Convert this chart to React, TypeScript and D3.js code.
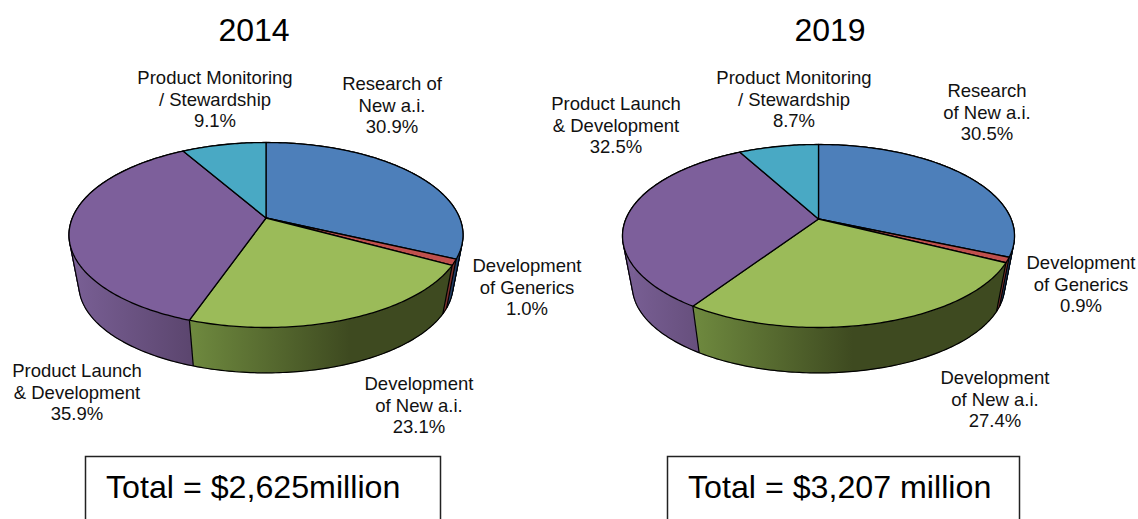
import React from "react";
import * as d3 from "d3";

const categories = [
  "Research of New a.i.",
  "Development of Generics",
  "Development of New a.i.",
  "Product Launch & Development",
  "Product Monitoring / Stewardship",
];
const values2014 = [30.9, 1.0, 23.1, 35.9, 9.1];
const values2019 = [30.5, 0.9, 27.4, 32.5, 8.7];
const totals = ["Total = $2,625million", "Total = $3,207 million"];
const years = ["2014", "2019"];

const topColors = ["#4d7fba", "#c0504d", "#9bbb59", "#7d5f9b", "#49a9c4"];
const wallLeft = ["#2a4f80", "#7a2f2d", "#6f8a3f", "#7a6096", "#2f7d92"];
const wallRight = ["#1f3d66", "#6a2927", "#3e4a20", "#5c466f", "#2f7d92"];

const labels2014 = [
  { x: 392, y: 90, lines: ["Research of", "New a.i.", "30.9%"] },
  { x: 527, y: 272, lines: ["Development", "of Generics", "1.0%"] },
  { x: 419, y: 390, lines: ["Development", "of New a.i.", "23.1%"] },
  { x: 77, y: 377, lines: ["Product Launch", "& Development", "35.9%"] },
  { x: 215, y: 84, lines: ["Product Monitoring", "/ Stewardship", "9.1%"] },
];
const labels2019 = [
  { x: 987, y: 97, lines: ["Research", "of New a.i.", "30.5%"] },
  { x: 1081, y: 269, lines: ["Development", "of Generics", "0.9%"] },
  { x: 995, y: 384, lines: ["Development", "of New a.i.", "27.4%"] },
  { x: 616, y: 110, lines: ["Product Launch", "& Development", "32.5%"] },
  { x: 794, y: 84, lines: ["Product Monitoring", "/ Stewardship", "8.7%"] },
];

const pieGen = d3.pie<number>().sort(null).value((d) => d);
const lineGen = d3.line<[number, number]>();

// the original's 3D camera pushes the slice edges round a little, in degrees
const cameraWarp = d3.scaleLinear().domain([0, 115, 200, 215, 330, 360]).range([0, 4, 1, 2, 3, 0]);

type Geo = { cx: number; cy: number; rx: number; ry: number; apex: number };

// circle to perspective ellipse, nearer edge comes out bigger
function project(g: Geo, angle: number, floor: boolean): [number, number] {
  const a = angle + (cameraWarp((angle * 180) / Math.PI) * Math.PI) / 180;
  const k = g.apex / g.ry;
  const X = Math.sin(a);
  const Y = -Math.cos(a);
  const w = 1 - k * Y;
  const c = g.rx * Math.sqrt(1 - k * k);
  let x = (c * X) / w;
  let y = (g.ry * Y - g.apex) / w;
  if (floor) {
    x *= 0.95;
    y = y * 0.95 + 50;
  }
  return [g.cx + x, g.cy + y];
}

function arcAngles(a0: number, a1: number) {
  const n = Math.max(2, Math.ceil((a1 - a0) * 60));
  return d3.range(n + 1).map((i) => a0 + ((a1 - a0) * i) / n);
}

function Pie({ id, values, geo, labels, year, titleX }: any) {
  const arcs = pieGen(values);
  const apexPt: [number, number] = [geo.cx, geo.cy - geo.apex];
  const all = arcAngles(0, 2 * Math.PI);
  const hull = d3.polygonHull(all.flatMap((a) => [project(geo, a, false), project(geo, a, true)]))!;
  return (
    <g>
      <defs>
        {arcs.map((s: any, i: number) => {
          const xs = d3.extent(arcAngles(s.startAngle, s.endAngle), (a) => project(geo, a, false)[0]) as [number, number];
          return (
            <linearGradient key={i} id={`${id}-w${i}`} gradientUnits="userSpaceOnUse" x1={xs[0]} x2={i === 2 ? xs[0] + 160 : xs[1]} y1={0} y2={0}>
              <stop offset="0" stopColor={wallLeft[i]} />
              <stop offset="1" stopColor={wallRight[i]} />
            </linearGradient>
          );
        })}
      </defs>
      {arcs.map((s: any, i: number) => {
        const as = arcAngles(s.startAngle, s.endAngle);
        const quads = as.slice(1).map((a, j) => {
          const p = as[j];
          return lineGen([project(geo, p, false), project(geo, a, false), project(geo, a, true), project(geo, p, true)])! + "Z";
        });
        return <path key={i} d={quads.join("")} fill={`url(#${id}-w${i})`} stroke={`url(#${id}-w${i})`} strokeWidth={0.6} />;
      })}
      {arcs.map((s: any, i: number) => (
        <path key={i} d={lineGen([project(geo, s.startAngle, false), project(geo, s.startAngle, true)])!} stroke="#000" strokeWidth={1.2} />
      ))}
      <path d={lineGen(hull as [number, number][])! + "Z"} fill="none" stroke="#000" strokeWidth={1.2} strokeLinejoin="round" />
      {arcs.map((s: any, i: number) => {
        const rim = arcAngles(s.startAngle, s.endAngle).map((a) => project(geo, a, false));
        return (
          <path key={i} d={lineGen([apexPt, ...rim])! + "Z"} fill={topColors[i]} stroke="#000" strokeWidth={1.3} strokeLinejoin="round" />
        );
      })}
      <text x={titleX} y={41} textAnchor="middle" fontSize={32}>{year}</text>
      {labels.map((l: any, i: number) => (
        <text key={i} textAnchor="middle" fontSize={18.5} fill="#111">
          {l.lines.map((t: string, j: number) => (
            <tspan key={j} x={l.x} y={l.y + j * 21.5}>{t}</tspan>
          ))}
        </text>
      ))}
    </g>
  );
}

export default function App() {
  return (
    <svg
      width={1138}
      height={519}
      style={{ position: "fixed", left: 0, top: 0, background: "#fff" }}
      fontFamily="'Liberation Sans', Arial, sans-serif"
      aria-label={categories.join(", ")}
    >
      <Pie id="a" values={values2014} labels={labels2014} year={years[0]} titleX={254}
        geo={{ cx: 266, cy: 235, rx: 197, ry: 92.5, apex: 17 }} />
      <Pie id="b" values={values2019} labels={labels2019} year={years[1]} titleX={830}
        geo={{ cx: 818.5, cy: 236, rx: 196, ry: 91.5, apex: 17 }} />
      <path d="M85.5,525V456.5H440.5V525" fill="none" stroke="#222" strokeWidth={1.5} />
      <path d="M667.5,525V456.5H1019.5V525" fill="none" stroke="#222" strokeWidth={1.5} />
      <text x={106} y={498} fontSize={32.2}>{totals[0]}</text>
      <text x={688} y={498} fontSize={32.2}>{totals[1]}</text>
    </svg>
  );
}
